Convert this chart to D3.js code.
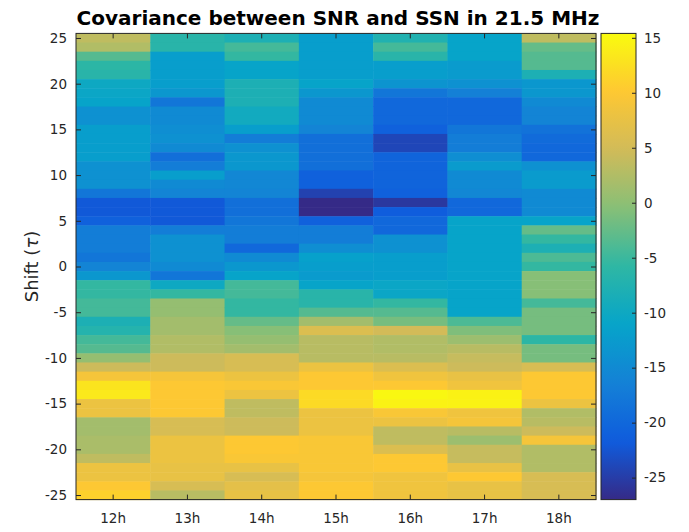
<!DOCTYPE html>
<html>
<head>
<meta charset="utf-8">
<script src="https://cdn.jsdelivr.net/npm/d3@7"></script>
<style>
  body { margin: 0; background: #fff; }
  svg { font-family: "DejaVu Sans", sans-serif; }
</style>
</head>
<body>
<svg id="chart" width="689" height="532"></svg>
<script>
// Column categories and row shifts (top to bottom)
const hours = ["12h", "13h", "14h", "15h", "16h", "17h", "18h"];
const shifts = d3.range(25, -26, -1);

// Covariance values, shift 25 down to -25
const cov12h = [3.5, 2.5, -3.5, -6, -6.5, -10, -10.5, -11, -14, -14, -12, -12, -12, -12, -14, -14, -14, -18, -22, -22, -21, -17, -17, -17, -18, -16,
  -13, -5.5, -5.5, -4.5, -4.5, -8, -7, -4.5, -3.5, 0.5, 4.5, 9, 13, 13.5, 8, 8, 1.5, 1.5, 2, 2, 3.5, 8, 8, 10, 11];
const cov13h = [-6.5, -6.5, -12, -12, -12, -12, -13, -18, -15, -15, -14.5, -14, -15, -19, -17, -12, -15, -16, -22, -22, -22, -17, -14, -14, -14, -15,
  -18, -10, -5.5, 0.5, 0.5, 1.5, 1.5, 2.5, 2.5, 4.5, 4.5, 9, 10, 10, 10, 10, 5.5, 5.5, 8, 8, 8, 7.5, 7.5, 5.5, 3];
const cov14h = [-8, -4.5, -5.5, -11, -11, -8, -8, -8, -9.5, -9.5, -12, -17, -14, -13, -13, -15.5, -15.5, -16, -19, -19, -18, -17, -17, -20, -15, -13,
  -11, -4.5, -4.5, -5.5, -5.5, -2.5, -0.5, 0.5, 1.5, 5.5, 5.5, 8, 9.5, 8, 3.5, 3.5, 4.5, 4.5, 10, 10, 9.5, 7.5, 5.5, 7, 7.5];
const cov15h = [-12, -12, -12, -12, -12, -11, -13, -15, -15, -15, -16, -19, -19, -19, -19, -21, -21, -24.5, -27, -27, -21, -17, -17, -14.5, -11.5, -12,
  -12.5, -11, -6.5, -6.5, -3.5, 1.5, 6, 3, 3, 3, 8, 10, 10, 12, 12, 8, 8, 8, 9.5, 9.5, 9.5, 9.5, 9, 10, 10];
const cov16h = [-7.5, -4.5, -6.5, -12, -12, -13.5, -18, -20, -20, -20, -21, -24, -24, -20.5, -20.5, -20.5, -20.5, -21, -25.5, -21.5, -20, -20, -14, -14, -12, -12,
  -12, -10.5, -10.5, -5.5, -3.5, -1.5, 5, 2.5, 2.5, 3, 6, 8.5, 10, 15, 14.5, 9.5, 8, 3.5, 3.5, 6, 10, 10, 8.5, 8.5, 8.5];
const cov17h = [-11, -11, -11, -12.5, -12.5, -14, -16.5, -20, -20, -20, -18, -17, -17, -14.5, -12.5, -15, -15, -15.5, -20, -20, -11, -11, -11, -11, -11, -11,
  -11, -11, -11, -11, -11, -4, -1, 1, 3, 4, 4.5, 7.5, 8.5, 14.5, 14.5, 8.5, 9, 3, 1, 4, 4, 7.5, 10, 7.5, 7.5];
const cov18h = [3.5, -2.5, -3.5, -3.5, -8, -13, -13, -15, -16, -16, -18.5, -19.5, -20, -20, -14, -12.5, -12.5, -15, -15, -15, -11, -2.5, -5.5, -8, -4, -5.5,
  -0.5, -0.5, -0.5, -4.5, -1.5, -1.5, -1.5, -6, -1.5, -1.5, 5.5, 10, 10, 10, 8, 2.5, 3, 4.5, 9, 2.5, 2.5, 2.5, 5.5, 5.5, 5.5];
const columns = [cov12h, cov13h, cov14h, cov15h, cov16h, cov17h, cov18h];

const yTicks = d3.range(-25, 26, 5);
const cbarTicks = [-25, -20, -15, -10, -5, 0, 5, 10, 15];
const colorLimits = [-27, 15.4];

// parula-like colormap anchors
const parula = ["#352a87", "#0f5cdd", "#1481d6", "#06a4ca", "#2eb7a4", "#87bf77", "#d1bb59", "#fec832", "#f9fb0e"];

const svg = d3.select("#chart");
const plot = { left: 76, right: 596, top: 33.4, bottom: 499.6 };
const axisColor = "#262626";
const plainNumber = d => String(d); // hyphen minus, like MATLAB

const x = d3.scaleBand().domain(hours).range([plot.left, plot.right]);
const y = d3.scaleLinear().domain([25.5, -25.5]).range([plot.top, plot.bottom]);
const color = d3.scaleLinear()
  .domain(parula.map((c, i) => colorLimits[0] + i * (colorLimits[1] - colorLimits[0]) / (parula.length - 1)))
  .range(parula)
  .interpolate(d3.interpolateRgb)
  .clamp(true);

// cells
const cells = [];
hours.forEach((h, i) => {
  shifts.forEach((s, j) => cells.push({ hour: h, shift: s, value: columns[i][j] }));
});
svg.append("g").selectAll("rect")
  .data(cells)
  .join("rect")
  .attr("x", d => x(d.hour))
  .attr("y", d => y(d.shift + 0.5))
  .attr("width", x.bandwidth() + 0.5)
  .attr("height", y(0) - y(1) + 0.5)
  .attr("fill", d => color(d.value));

// axes (MATLAB style, ticks inside, box on)
const tickLen = 5;
const fontSize = "13.5px";
const bottomAxis = svg.append("g")
  .attr("transform", `translate(0,${plot.bottom})`)
  .call(d3.axisBottom(x).tickSizeInner(-tickLen).tickSizeOuter(0).tickPadding(14));
const leftAxis = svg.append("g")
  .attr("transform", `translate(${plot.left},0)`)
  .call(d3.axisLeft(y).tickValues(yTicks).tickFormat(plainNumber).tickSizeInner(-tickLen).tickSizeOuter(0).tickPadding(9));
const topAxis = svg.append("g")
  .attr("transform", `translate(0,${plot.top})`)
  .call(d3.axisTop(x).tickSizeInner(-tickLen).tickSizeOuter(0).tickFormat(""));
const rightAxis = svg.append("g")
  .attr("transform", `translate(${plot.right},0)`)
  .call(d3.axisRight(y).tickValues(yTicks).tickSizeInner(-tickLen).tickSizeOuter(0).tickFormat(""));

[bottomAxis, leftAxis, topAxis, rightAxis].forEach(g => {
  g.select(".domain").remove();
  g.selectAll("line").attr("stroke", axisColor);
  g.selectAll("text").attr("fill", axisColor).style("font-size", fontSize).style("font-family", "DejaVu Sans, sans-serif");
});

svg.append("rect")
  .attr("x", plot.left).attr("y", plot.top)
  .attr("width", plot.right - plot.left).attr("height", plot.bottom - plot.top)
  .attr("fill", "none").attr("stroke", axisColor).attr("stroke-width", 1);

// title
svg.append("text")
  .attr("x", (plot.left + plot.right) / 2 + 2)
  .attr("y", 25)
  .attr("text-anchor", "middle")
  .style("font-weight", "bold")
  .style("font-size", "20px")
  .attr("fill", "#000")
  .text("Covariance between SNR and SSN in 21.5 MHz");

// y label
const ylab = svg.append("text")
  .attr("transform", `translate(38,${(plot.top + plot.bottom) / 2}) rotate(-90)`)
  .attr("text-anchor", "middle")
  .style("font-size", "18px")
  .attr("fill", axisColor);
ylab.append("tspan").text("Shift (");
ylab.append("tspan").style("font-style", "italic").text("τ");
ylab.append("tspan").text(")");

// colorbar, smooth gradient sampled from the colour scale
const cbar = { left: 601, right: 636 };
const cy = d3.scaleLinear().domain(colorLimits).range([plot.bottom, plot.top]);
const grad = svg.append("defs").append("linearGradient")
  .attr("id", "cbarGrad")
  .attr("x1", 0).attr("y1", 1).attr("x2", 0).attr("y2", 0);
grad.selectAll("stop")
  .data(d3.range(0, 1.0001, 0.02))
  .join("stop")
  .attr("offset", d => d)
  .attr("stop-color", d => color(colorLimits[0] + d * (colorLimits[1] - colorLimits[0])));
svg.append("rect")
  .attr("x", cbar.left).attr("y", plot.top)
  .attr("width", cbar.right - cbar.left).attr("height", plot.bottom - plot.top)
  .attr("fill", "url(#cbarGrad)");

const cbarAxis = svg.append("g")
  .attr("transform", `translate(${cbar.right},0)`)
  .call(d3.axisRight(cy).tickValues(cbarTicks).tickFormat(plainNumber).tickSizeInner(-4).tickSizeOuter(0).tickPadding(8));
cbarAxis.select(".domain").remove();
cbarAxis.selectAll("line").attr("stroke", axisColor);
cbarAxis.selectAll("text").attr("fill", axisColor).style("font-size", fontSize).style("font-family", "DejaVu Sans, sans-serif");

svg.append("rect")
  .attr("x", cbar.left).attr("y", plot.top)
  .attr("width", cbar.right - cbar.left).attr("height", plot.bottom - plot.top)
  .attr("fill", "none").attr("stroke", axisColor).attr("stroke-width", 1);
</script>
</body>
</html>
